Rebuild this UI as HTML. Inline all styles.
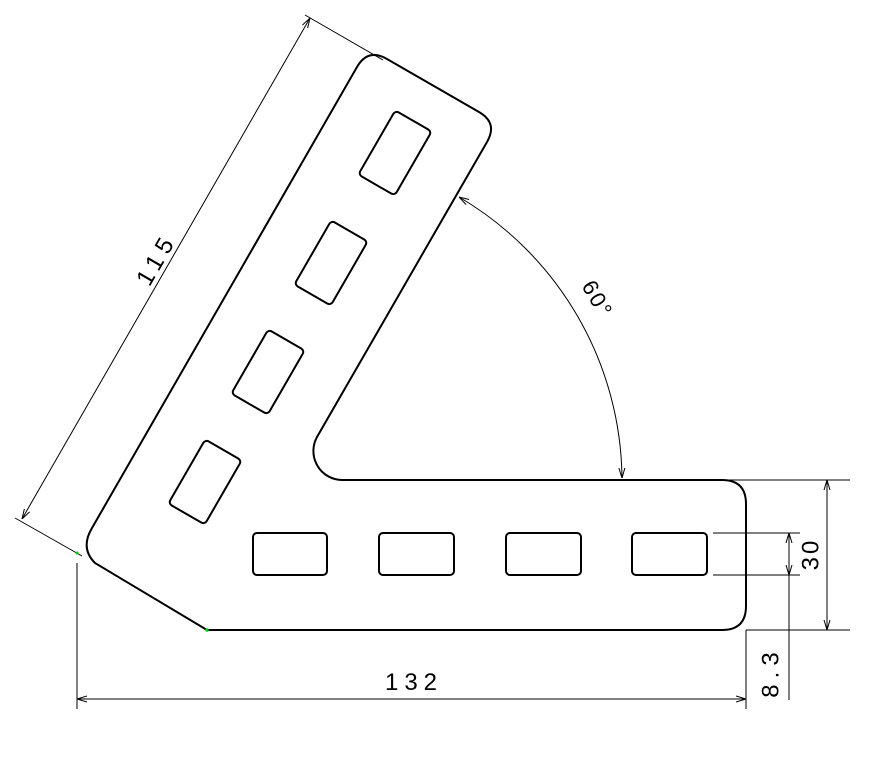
<!DOCTYPE html>
<html><head><meta charset="utf-8"><style>
html,body{margin:0;padding:0;background:#fff;}
svg{display:block;}
text{font-family:"Liberation Sans","DejaVu Sans",sans-serif;fill:#000;}
</style></head><body>
<svg width="870" height="759" viewBox="0 0 870 759" xmlns="http://www.w3.org/2000/svg">
<defs>
<marker id="a" viewBox="0 0 10 10" refX="10" refY="5" markerWidth="10" markerHeight="10" orient="auto-start-reverse" markerUnits="userSpaceOnUse">
<path d="M0,2 L10,5 L0,8" fill="none" stroke="#000" stroke-width="1"/>
</marker>
</defs>
<path d="M207,630 L722,630 Q746,630 746,606 L746,504 Q746,480 722,480 L342,480 A29 29 0 0 1 317,437 L487,142 Q498,123 479,112 L387,59 Q368,48 357,67 L92,528 Q80,548 95,563 L207,630 Z" fill="none" stroke="#000" stroke-width="2"/>
<g fill="none" stroke="#000" stroke-width="2">
<rect x="253" y="533" width="74" height="42" rx="4"/>
<rect x="379" y="533" width="75" height="42" rx="4"/>
<rect x="506" y="533" width="75" height="42" rx="4"/>
<rect x="632" y="533" width="75" height="42" rx="4"/>
<rect x="-37" y="-21" width="74" height="42" rx="4" transform="translate(395,153) rotate(-60)"/>
<rect x="-37" y="-21" width="74" height="42" rx="4" transform="translate(331,263) rotate(-60)"/>
<rect x="-37" y="-21" width="74" height="42" rx="4" transform="translate(268,372) rotate(-60)"/>
<rect x="-37" y="-21" width="74" height="42" rx="4" transform="translate(205,482) rotate(-60)"/>
</g>
<g stroke="#000" stroke-width="1" fill="none">
<line x1="305" y1="15" x2="383" y2="60"/>
<line x1="15" y1="518" x2="82" y2="556"/>
<line x1="310" y1="18" x2="22" y2="519" marker-start="url(#a)" marker-end="url(#a)"/>
<path d="M459,197 A330 330 0 0 1 622,478" marker-start="url(#a)" marker-end="url(#a)"/>
<line x1="725" y1="480" x2="850" y2="480"/>
<line x1="746" y1="630" x2="850" y2="630"/>
<line x1="827" y1="480" x2="827" y2="630" marker-start="url(#a)" marker-end="url(#a)"/>
<line x1="713" y1="533" x2="800" y2="533"/>
<line x1="713" y1="575" x2="800" y2="575"/>
<line x1="789" y1="533" x2="789" y2="700"/>
<line x1="789" y1="548" x2="789" y2="533" marker-end="url(#a)"/>
<line x1="789" y1="560" x2="789" y2="575" marker-end="url(#a)"/>
<line x1="77" y1="563" x2="77" y2="709"/>
<line x1="746" y1="630" x2="746" y2="709"/>
<line x1="77" y1="699" x2="746" y2="699" marker-start="url(#a)" marker-end="url(#a)"/>
</g>
<circle cx="77" cy="553" r="1.5" fill="#0c0"/>
<circle cx="207" cy="630" r="1.8" fill="#0c0"/>
<text x="0" y="0" font-size="24" text-anchor="middle" letter-spacing="6" transform="translate(158,260) rotate(-60)" dominant-baseline="middle">115</text>
<text x="0" y="0" font-size="22" text-anchor="middle" letter-spacing="2" transform="translate(596,300) rotate(60)" dominant-baseline="middle">60°</text>
<text x="0" y="0" font-size="24" text-anchor="middle" letter-spacing="3" transform="translate(812,554) rotate(-90)" dominant-baseline="middle">30</text>
<text x="0" y="0" font-size="24" text-anchor="middle" letter-spacing="6" transform="translate(772,672) rotate(-90)" dominant-baseline="middle">8.3</text>
<text x="414" y="690" font-size="24" text-anchor="middle" letter-spacing="6">132</text>
</svg>
</body></html>
